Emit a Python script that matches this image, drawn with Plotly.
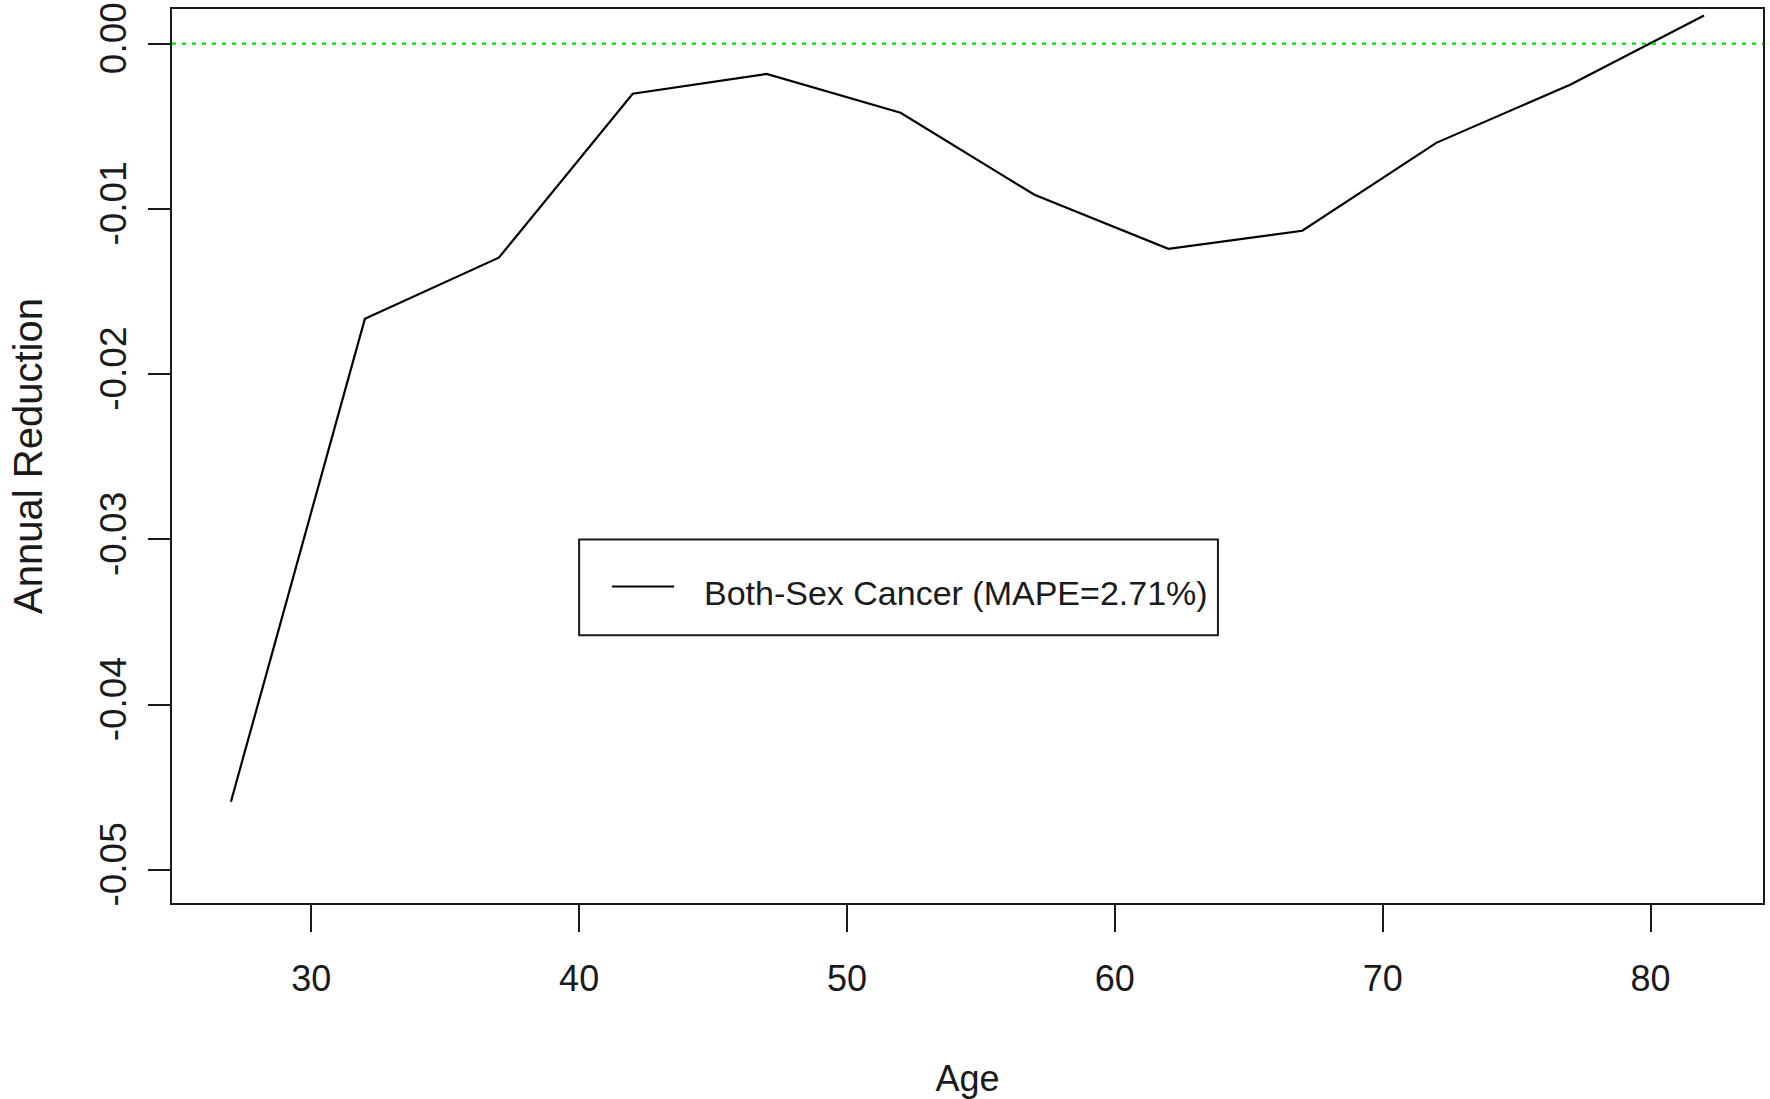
import plotly.graph_objects as go

# ---- data ----
ages = [27, 32, 37, 42, 47, 52, 57, 62, 67, 72, 77, 82]
annual_reduction = [-0.04587, -0.01665, -0.01295, -0.00303, -0.00183, -0.00418,
                    -0.00914, -0.01241, -0.01132, -0.00600, -0.00248, 0.00171]
x_ticks = [30, 40, 50, 60, 70, 80]
x_tick_labels = ["30", "40", "50", "60", "70", "80"]
y_ticks = [-0.05, -0.04, -0.03, -0.02, -0.01, 0.00]
y_tick_labels = ["-0.05", "-0.04", "-0.03", "-0.02", "-0.01", "0.00"]
reference_level = 0.0
legend_label = "Both-Sex Cancer (MAPE=2.71%)"
legend_box = dict(x0=40, x1=63.85, y0=-0.0358, y1=-0.0300)

NARROW = "Liberation Sans Narrow, Arial Narrow, Liberation Sans, Arial, sans-serif"
REG = "Liberation Sans, Arial, sans-serif"
INK = "#1a1a1a"

fig = go.Figure()
fig.add_trace(go.Scatter(
    x=ages, y=annual_reduction, mode="lines",
    line=dict(color="black", width=2.2), name=legend_label, showlegend=False,
    hoverinfo="x+y"))

# abline(h=0, col="green", lty=3)
fig.add_shape(type="line", xref="paper", x0=0, x1=1, yref="y",
              y0=reference_level, y1=reference_level,
              line=dict(color="#00dd00", width=2.2, dash="4px,6px"), layer="above")

# legend box (R style)
fig.add_shape(type="rect", xref="x", yref="y", **legend_box,
              line=dict(color=INK, width=2), fillcolor="white", layer="above")
ly = legend_box["y1"] - (legend_box["y1"] - legend_box["y0"]) * 0.49
fig.add_shape(type="line", xref="x", yref="y",
              x0=legend_box["x0"] + 1.23, x1=legend_box["x0"] + 3.55, y0=ly, y1=ly,
              line=dict(color="black", width=2), layer="above")
fig.add_annotation(x=legend_box["x0"] + 4.6, y=ly - 0.0004, xref="x", yref="y",
                   text=legend_label, showarrow=False, xanchor="left", yanchor="middle",
                   font=dict(family=NARROW, size=34, color=INK))

fig.update_layout(
    width=1770, height=1099,
    margin=dict(l=172, r=7, t=9, b=196, autoexpand=False),
    paper_bgcolor="white", plot_bgcolor="white",
    showlegend=False,
)
fig.update_xaxes(
    range=[24.8, 84.2], tickvals=x_ticks, ticktext=x_tick_labels,
    showgrid=False, zeroline=False, showline=True, mirror=True,
    linecolor=INK, linewidth=2, ticks="outside", ticklen=27, tickwidth=2,
    tickcolor=INK, tickfont=dict(family=NARROW, size=36, color=INK),
    ticklabelstandoff=16,
    title=dict(text="Age", font=dict(family=NARROW, size=36, color=INK), standoff=69),
    automargin=False,
)
fig.update_yaxes(
    range=[-0.052, 0.0021], tickvals=y_ticks, ticktext=y_tick_labels,
    showgrid=False, zeroline=False, showline=True, mirror=True,
    linecolor=INK, linewidth=2, ticks="outside", ticklen=22, tickwidth=2,
    tickcolor=INK, tickangle=-90, tickfont=dict(family=REG, size=37, color=INK),
    ticklabelstandoff=7,
    title=dict(text="Annual Reduction", font=dict(family=REG, size=40, color=INK), standoff=38),
    automargin=False,
)

fig.write_html("out.html")
